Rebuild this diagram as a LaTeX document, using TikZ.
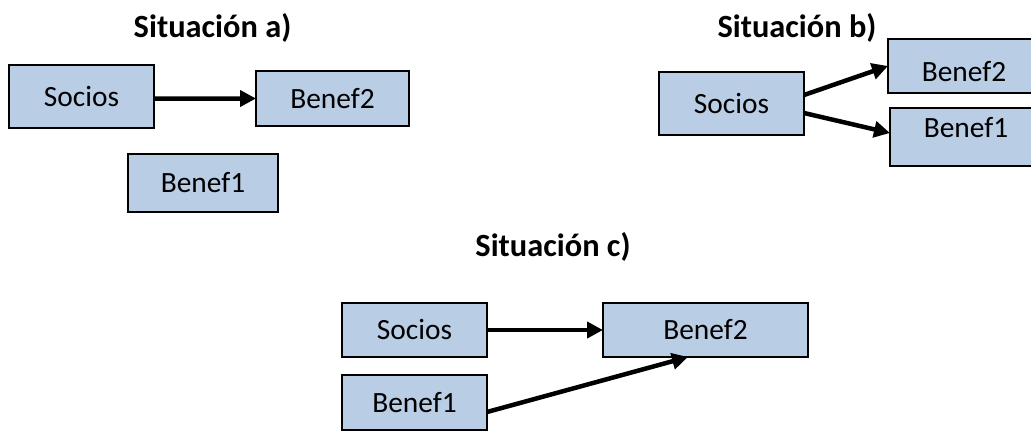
\documentclass[tikz,border=0pt]{standalone}
\usepackage{fontspec}
\setmainfont{Carlito}
\usetikzlibrary{arrows.meta}
\definecolor{boxfill}{HTML}{B9CDE5}
\tikzset{
  box/.style={draw=black, fill=boxfill, line width=1.3bp, inner sep=0pt, outer sep=0pt,
    text height=19bp, text depth=0pt,
    font=\fontsize{29.5}{35}\selectfont},
  title/.style={anchor=base, inner sep=0pt, font=\fontsize{32.5}{38}\selectfont\bfseries},
  arr/.style={line width=4.5bp, -{Triangle[length=16bp,width=16bp]}}
}
\begin{document}
\begin{tikzpicture}[x=1bp,y=-1bp]
\useasboundingbox (0,0) rectangle (1031,430);
\clip (0,0) rectangle (1031,430);

% Situación a)
\node[title] (ta) at (212.5,37) {Situación a)};
\node[box, minimum width=145bp, minimum height=63bp] (socA) at (81.5,96.5) {Socios};
\node[box, minimum width=153bp, minimum height=55bp] (benA2) at (332.5,98.5) {Benef2};
\node[box, minimum width=150bp, minimum height=58bp] (benA1) at (203,183) {Benef1};
\draw[arr] ([yshift=-2bp]socA.east) -- (benA2.west);

% Situación b)
\node[title] (tb) at (797,37) {Situación b)};
\node[box, minimum width=145bp, minimum height=63bp] (socB) at (731.5,103.5) {Socios};
\node[box, minimum width=152bp, minimum height=54bp] (benB2) at (964,66) {\raisebox{-6bp}{Benef2}};
\node[box, minimum width=152bp, minimum height=58bp] (benB1) at (966,137) {\raisebox{9bp}{Benef1}};
\draw[arr] ([yshift=8.5bp]socB.east) -- (benB2.west);
\draw[arr] ([yshift=-9.5bp]socB.east) -- ([yshift=4bp]benB1.west);

% Situación c)
\node[title] (tc) at (553,256) {Situación c)};
\node[box, minimum width=145bp, minimum height=54bp] (socC) at (414.5,330) {Socios};
\node[box, minimum width=205bp, minimum height=54bp] (benC2) at (705.5,330) {Benef2};
\node[box, minimum width=145bp, minimum height=55bp] (benC1) at (414.5,402.5) {Benef1};
\draw[arr] (socC.east) -- (benC2.west);
\draw[arr] ([yshift=-9.5bp]benC1.east) -- ([xshift=-17.5bp]benC2.south);
\end{tikzpicture}
\end{document}
